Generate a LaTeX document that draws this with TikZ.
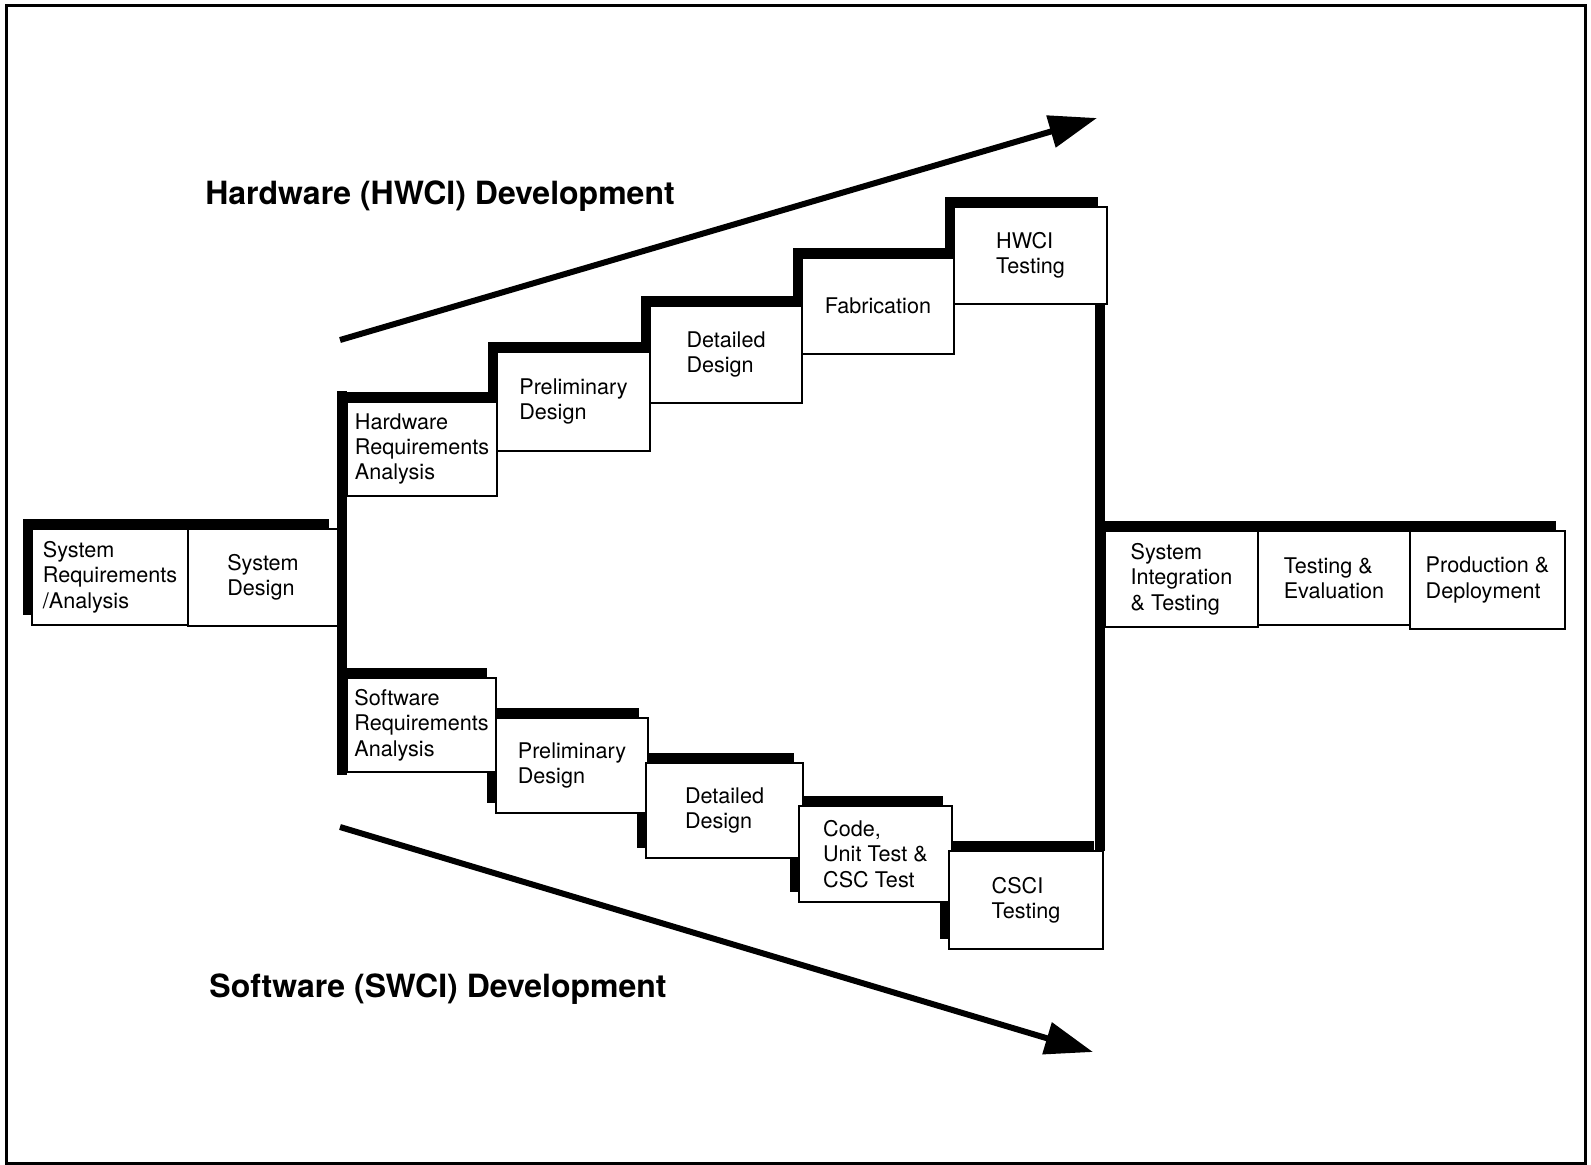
\documentclass[tikz,border=0pt]{standalone}
\usepackage{fontspec}
\setmainfont{TeX Gyre Heros}
\usetikzlibrary{arrows.meta}
\pgfdeclarelayer{shade}
\pgfsetlayers{shade,main}
\tikzset{
  stage/.style={draw, line width=2.3pt, fill=white, inner sep=0pt, align=left,
    font=\fontsize{21.6}{25.4}\selectfont},
  shade/.style={fill=black},
  phase/.style={line width=6pt, -{Triangle[length=48pt,width=32pt]}},
  phasetitle/.style={font=\fontsize{32}{38}\selectfont\bfseries},
  frame/.style={line width=3pt},
}
% one stage box with its black offset shadow behind it
\newcommand\stagebox[6]{%
  \pgfmathsetmacro\sbw{#4-#2}\pgfmathsetmacro\sbh{#5-#3}%
  \pgfmathsetmacro\sbx{(#2+#4)/2}\pgfmathsetmacro\sby{(#3+#5)/2}%
  \begin{pgfonlayer}{shade}
    \fill[shade, shift={(-9,-10)}] (#2,#3) rectangle (#4,#5);
  \end{pgfonlayer}
  \node[stage, minimum width=\sbw pt, minimum height=\sbh pt] (#1) at (\sbx,\sby) {#6};
}
\begin{document}
\begin{tikzpicture}[x=1pt,y=-1pt]
\useasboundingbox (0,0) rectangle (1591,1165);
\draw[frame] (6.5,5.5) rectangle (1585.5,1163);

% system level
\stagebox{sysreq}{32}{529}{188}{625}{System\\Requirements\\/Analysis}
\stagebox{sysdes}{188}{529}{338}{626}{System\\Design}

% hardware branch
\stagebox{hwreq}{347}{402}{497}{496}{Hardware\\Requirements\\Analysis}
\stagebox{hwpre}{497}{352}{650}{451}{Preliminary\\Design}
\stagebox{hwdet}{650}{306}{802}{403}{Detailed\\Design}
\stagebox{fab}{802}{258}{954}{354}{Fabrication}
\stagebox{hwci}{954}{207}{1107}{304}{HWCI\\Testing}

% software branch
\stagebox{swreq}{347}{678}{496}{772}{Software\\Requirements\\Analysis}
\stagebox{swpre}{496}{718}{648}{813}{Preliminary\\Design}
\stagebox{swdet}{646}{763}{803}{858}{Detailed\\Design}
\stagebox{code}{799}{806}{952}{902}{Code,\\Unit Test \&\\CSC Test}
\stagebox{csci}{949}{851}{1103}{949}{CSCI\\Testing}

% integration and beyond
\stagebox{sysint}{1105}{531}{1258}{627}{System\\Integration\\\& Testing}
\stagebox{teval}{1258}{531}{1410}{625}{Testing \&\\Evaluation}
\stagebox{prod}{1410}{531}{1565}{629}{Production \&\\Deployment}

% branching and joining bars
\fill[shade] (337,391) rectangle (347,775);
\fill[shade] (1095,304) rectangle (1105,851);

% development trend arrows
\coordinate (hwfrom) at (340,340);
\coordinate (hwto) at (1097,118);
\draw[phase] (hwfrom) -- (hwto);
\coordinate (swfrom) at (340,827);
\coordinate (swto) at (1093,1052);
\draw[phase] (swfrom) -- (swto);

\node[phasetitle] (hwtitle) at (440,196) {Hardware (HWCI) Development};
\node[phasetitle] (swtitle) at (438,989) {Software (SWCI) Development};
\end{tikzpicture}
\end{document}
